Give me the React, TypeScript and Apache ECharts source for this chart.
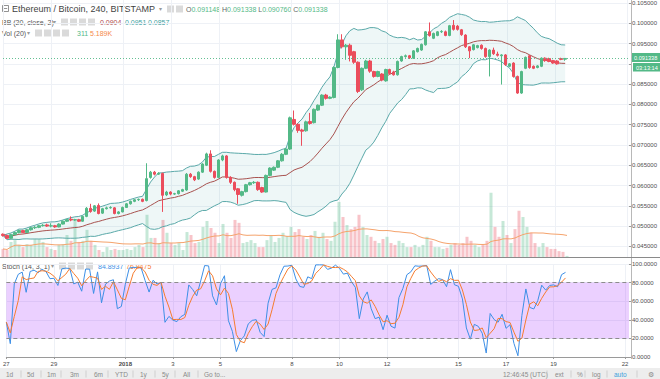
import React, { useEffect, useRef } from 'react';
import * as echarts from 'echarts';

// [open, close, low, high] per 4h candle, starting Dec 27 00:00
const ohlc: number[][] = [
  [0.0480,0.0477,0.0474,0.0482],[0.0477,0.0470,0.0468,0.0479],[0.0470,0.0479,0.0469,0.0481],[0.0479,0.0484,0.0477,0.0486],
  [0.0484,0.0489,0.0482,0.0491],[0.0489,0.0484,0.0483,0.0491],[0.0484,0.0491,0.0483,0.0493],[0.0491,0.0496,0.0489,0.0498],
  [0.0496,0.0497,0.0493,0.0500],[0.0497,0.0501,0.0495,0.0503],[0.0501,0.0502,0.0499,0.0505],[0.0503,0.0500,0.0498,0.0506],
  [0.0500,0.0501,0.0497,0.0507],[0.0501,0.0498,0.0496,0.0503],[0.0498,0.0505,0.0497,0.0507],[0.0505,0.0512,0.0504,0.0514],
  [0.0512,0.0516,0.0510,0.0518],[0.0517,0.0515,0.0512,0.0524],[0.0515,0.0516,0.0513,0.0518],[0.0516,0.0512,0.0510,0.0518],
  [0.0512,0.0524,0.0511,0.0526],[0.0524,0.0544,0.0522,0.0547],[0.0544,0.0536,0.0533,0.0555],[0.0537,0.0550,0.0535,0.0552],
  [0.0551,0.0531,0.0529,0.0556],[0.0532,0.0543,0.0530,0.0545],[0.0543,0.0545,0.0541,0.0548],[0.0545,0.0546,0.0543,0.0549],
  [0.0545,0.0531,0.0529,0.0547],[0.0531,0.0535,0.0529,0.0537],[0.0535,0.0546,0.0534,0.0548],[0.0546,0.0555,0.0545,0.0557],
  [0.0555,0.0561,0.0553,0.0563],[0.0561,0.0565,0.0559,0.0567],[0.0565,0.0566,0.0562,0.0568],[0.0566,0.0561,0.0559,0.0568],
  [0.0563,0.0617,0.0561,0.0655],[0.0620,0.0633,0.0617,0.0636],[0.0633,0.0628,0.0625,0.0636],[0.0628,0.0630,0.0626,0.0633],
  [0.0630,0.0576,0.0535,0.0632],[0.0577,0.0584,0.0574,0.0587],[0.0584,0.0579,0.0576,0.0586],[0.0579,0.0580,0.0577,0.0582],
  [0.0580,0.0587,0.0578,0.0589],[0.0586,0.0590,0.0584,0.0592],[0.0589,0.0628,0.0587,0.0631],[0.0628,0.0622,0.0619,0.0631],
  [0.0622,0.0614,0.0611,0.0624],[0.0616,0.0633,0.0614,0.0635],[0.0633,0.0653,0.0631,0.0655],[0.0650,0.0678,0.0648,0.0681],
  [0.0678,0.0635,0.0632,0.0687],[0.0635,0.0620,0.0617,0.0637],[0.0620,0.0663,0.0618,0.0665],[0.0663,0.0673,0.0660,0.0676],
  [0.0673,0.0620,0.0617,0.0675],[0.0620,0.0608,0.0604,0.0623],[0.0608,0.0590,0.0586,0.0610],[0.0592,0.0578,0.0555,0.0594],
  [0.0576,0.0585,0.0573,0.0587],[0.0585,0.0602,0.0583,0.0604],[0.0602,0.0607,0.0600,0.0609],[0.0607,0.0608,0.0604,0.0611],
  [0.0608,0.0590,0.0587,0.0610],[0.0595,0.0584,0.0582,0.0597],[0.0584,0.0625,0.0583,0.0627],[0.0625,0.0643,0.0623,0.0645],
  [0.0638,0.0645,0.0636,0.0647],[0.0645,0.0661,0.0643,0.0663],[0.0661,0.0677,0.0659,0.0680],[0.0677,0.0690,0.0675,0.0693],
  [0.0690,0.0767,0.0688,0.0770],[0.0763,0.0751,0.0748,0.0785],[0.0751,0.0736,0.0730,0.0753],[0.0737,0.0734,0.0698,0.0740],
  [0.0735,0.0757,0.0733,0.0760],[0.0758,0.0753,0.0750,0.0779],[0.0755,0.0788,0.0753,0.0790],[0.0786,0.0798,0.0784,0.0800],
  [0.0798,0.0823,0.0796,0.0825],[0.0823,0.0815,0.0812,0.0826],[0.0815,0.0818,0.0813,0.0820],[0.0817,0.0891,0.0815,0.0894],
  [0.0891,0.0959,0.0889,0.0973],[0.0959,0.0942,0.0938,0.0973],[0.0942,0.0946,0.0910,0.0949],[0.0946,0.0921,0.0906,0.0950],
  [0.0930,0.0904,0.0900,0.0932],[0.0904,0.0832,0.0828,0.0906],[0.0836,0.0889,0.0833,0.0891],[0.0889,0.0907,0.0887,0.0910],
  [0.0907,0.0882,0.0878,0.0910],[0.0881,0.0869,0.0866,0.0883],[0.0869,0.0881,0.0867,0.0883],[0.0875,0.0860,0.0857,0.0877],
  [0.0858,0.0886,0.0856,0.0888],[0.0886,0.0876,0.0873,0.0888],[0.0880,0.0873,0.0871,0.0883],[0.0873,0.0906,0.0871,0.0908],
  [0.0907,0.0918,0.0905,0.0920],[0.0918,0.0920,0.0915,0.0923],[0.0920,0.0915,0.0912,0.0922],[0.0914,0.0932,0.0912,0.0934],
  [0.0930,0.0938,0.0928,0.0940],[0.0934,0.0948,0.0932,0.0950],[0.0947,0.0979,0.0945,0.0981],[0.0979,0.0970,0.0967,0.1002],
  [0.0963,0.0975,0.0961,0.0977],[0.0970,0.0979,0.0968,0.0981],[0.0979,0.0980,0.0976,0.0983],[0.0979,0.0970,0.0968,0.0982],
  [0.0970,0.0994,0.0968,0.0996],[0.0995,0.0985,0.0982,0.1008],[0.0993,0.0985,0.0982,0.0996],[0.0984,0.0972,0.0969,0.0986],
  [0.0971,0.0942,0.0939,0.0973],[0.0942,0.0932,0.0914,0.0944],[0.0935,0.0947,0.0933,0.0949],[0.0940,0.0945,0.0938,0.0947],
  [0.0946,0.0938,0.0935,0.0948],[0.0938,0.0918,0.0915,0.0940],[0.0918,0.0934,0.0869,0.0936],[0.0934,0.0925,0.0922,0.0940],
  [0.0924,0.0921,0.0918,0.0930],[0.0920,0.0922,0.0849,0.0924],[0.0922,0.0898,0.0895,0.0924],[0.0894,0.0900,0.0892,0.0902],
  [0.0902,0.0869,0.0866,0.0904],[0.0869,0.0828,0.0826,0.0871],[0.0828,0.0881,0.0826,0.0883],[0.0889,0.0916,0.0887,0.0918],
  [0.0920,0.0891,0.0888,0.0922],[0.0894,0.0889,0.0887,0.0896],[0.0891,0.0895,0.0889,0.0897],[0.0894,0.0914,0.0892,0.0916],
  [0.0914,0.0908,0.0905,0.0916],[0.0913,0.0906,0.0904,0.0915],[0.0908,0.0902,0.0900,0.0910],[0.0907,0.0900,0.0898,0.0909],
  [0.0913,0.0911,0.0909,0.0915],[0.091148,0.091338,0.090760,0.091338],
];

// volume, thousands
const volumeK: number[] = [
  2.2,1.9,4.1,4.6,3.3,2.7,3.5,3.3,4.9,4.9,4.1,2.7,2.2,1.9,3.3,3.5,6.0,4.4,10.1,4.1,4.4,7.4,4.4,3.3,1.9,1.4,2.7,1.9,2.2,1.9,1.9,2.2,1.9,2.7,3.3,2.7,11.5,
  5.2,5.2,3.8,10.1,6.6,3.8,3.3,3.8,1.9,6.8,6.0,3.8,4.1,8.2,9.8,7.9,6.6,3.8,9.0,6.6,5.2,10.1,9.3,3.8,4.1,4.6,3.8,2.7,2.7,4.6,6.0,4.1,5.2,6.6,5.7,
  8.2,6.8,7.6,5.5,4.9,6.0,7.1,5.5,6.6,4.9,4.4,9.6,15.0,10.9,8.7,7.6,8.2,11.5,8.2,6.0,
  5.5,4.4,3.8,4.9,5.5,3.8,3.3,4.4,3.8,2.7,2.7,3.3,2.7,3.3,5.5,4.4,2.7,2.7,2.2,2.5,
  3.3,3.8,3.3,3.8,5.5,4.4,3.3,2.7,3.3,4.4,17.5,8.2,5.5,9.8,6.0,3.8,7.6,12.6,10.9,8.2,
  6.6,3.8,2.7,3.8,2.7,2.2,2.2,1.6,1.4,0.3,
];

const tickIndex = [0, 12, 30, 42, 54, 72, 84, 96, 114, 126, 138, 156];
const tickLabels = ['27', '29', '2018', '3', '5', '8', '10', '12', '15', '17', '19', '22'];
const lastPrice = 0.091338;
const SLOTS = 158;

const UP = '#53b987';
const DOWN = '#eb4d5c';
const FONT = 'Liberation Sans, Arial, sans-serif';

function rollMean(a: number[], n: number) {
  return a.map((_, i) => {
    const s = Math.max(0, i - n + 1);
    let sum = 0;
    for (let j = s; j <= i; j++) sum += a[j];
    return sum / (i - s + 1);
  });
}
function rollStd(a: number[], n: number, m: number[]) {
  return a.map((_, i) => {
    const s = Math.max(0, i - n + 1);
    let sum = 0;
    for (let j = s; j <= i; j++) sum += (a[j] - m[i]) ** 2;
    return Math.sqrt(sum / (i - s + 1));
  });
}

export default function App() {
  const ref = useRef<HTMLDivElement>(null);
  useEffect(() => {
    if (!ref.current) return;
    const chart = echarts.init(ref.current, null, { renderer: 'svg' });
    const closes = ohlc.map((r) => r[1]);
    const lows = ohlc.map((r) => r[2]);
    const highs = ohlc.map((r) => r[3]);
    const mid = rollMean(closes, 20);
    const sd = rollStd(closes, 20, mid);
    const upper = mid.map((m, i) => m + 2 * sd[i]);
    const lower = mid.map((m, i) => m - 2 * sd[i]);
    const band = upper.map((u, i) => u - lower[i]);
    const volMA = rollMean(volumeK, 20);
    const kRaw = closes.map((c, i) => {
      const s = Math.max(0, i - 13);
      const hh = Math.max(...highs.slice(s, i + 1));
      const ll = Math.min(...lows.slice(s, i + 1));
      return hh === ll ? 50 : (100 * (c - ll)) / (hh - ll);
    });
    const dLine = rollMean(kRaw, 3);

    const cats = Array.from({ length: SLOTS }, (_, i) => String(i));
    const tickSet = new Set(tickIndex);
    const isTick = (i: number) => tickSet.has(i);
    const labelOf = (i: number) => {
      const k = tickIndex.indexOf(i);
      if (k < 0) return '';
      const t = tickLabels[k];
      return t === '2018' ? '{b|' + t + '}' : t;
    };
    const gridLine = { show: true, lineStyle: { color: '#eef1f6', width: 1 } };
    const gL = 3, gW = 628;

    const icons = (x0: number, y: number, n: number) =>
      Array.from({ length: n }, (_, i) => ({
        type: 'rect', shape: { x: x0 + i * 9, y: y - 3.5, width: 7, height: 7 },
        style: { fill: '#dadada' },
      }));
    const txt = (x: number, y: number, text: string, fill: string, size = 7, extra: any = {}) => ({
      type: 'text', x, y,
      style: { text, fill, font: `${size}px ${FONT}`, verticalAlign: 'middle', textVerticalAlign: 'middle', ...extra },
    });

    const toolbarLeft: [number, string][] = [[6, '1d'], [27, '5d'], [47, '1m'], [70, '3m'], [94, '6m'], [115, 'YTD'], [140, '1y'], [162, '5y'], [183, 'All'], [204, 'Go to...']];
    const seps = [21, 41, 61, 86, 108, 133, 155, 175, 198];
    const toolbarRight: [number, string, string][] = [[503, '12:46:45 (UTC)', '#8a8a8a'], [555, 'ext', '#8a8a8a'], [577, '%', '#8a8a8a'], [592, 'log', '#8a8a8a'], [614, 'auto', '#3d9fdc'], [648, '\u2699', '#8a8a8a']];
    const sepsR = [547, 571, 585, 607, 637];

    const option: any = {
      animation: false,
      backgroundColor: '#ffffff',
      textStyle: { fontFamily: FONT },
      grid: [
        { left: gL, width: gW, top: 1, height: 245.4 },
        { left: gL, width: gW, top: 0, height: 257 },
        { left: gL, width: gW, top: 264, height: 93 },
      ],
      xAxis: [
        { type: 'category', gridIndex: 0, data: cats, boundaryGap: false, show: false },
        {
          type: 'category', gridIndex: 1, data: cats, boundaryGap: false,
          axisLine: { show: false }, axisTick: { show: false },
          axisLabel: { show: false, interval: isTick },
          splitLine: { ...gridLine, interval: isTick },
        },
        {
          type: 'category', gridIndex: 2, data: cats, boundaryGap: false,
          axisLine: { show: true, lineStyle: { color: '#9a9a9a' } },
          axisTick: { show: true, interval: isTick, length: 2, lineStyle: { color: '#9a9a9a' } },
          axisLabel: {
            interval: isTick, formatter: (_v: string, i: number) => labelOf(i),
            fontSize: 6, color: '#4a4a4a', margin: 4, fontFamily: FONT,
            rich: { b: { fontWeight: 'bold', fontSize: 6, color: '#4a4a4a', fontFamily: FONT } },
          },
          splitLine: { ...gridLine, interval: isTick },
        },
      ],
      yAxis: [
        {
          type: 'value', gridIndex: 0, position: 'right', min: 0.045, max: 0.105, interval: 0.005,
          axisLine: { show: false }, axisTick: { show: true, length: 2, lineStyle: { color: '#9a9a9a' } },
          axisLabel: {
            // the 0.090000 label sits under the current-price tag, as in the reference
            formatter: (v: number) => (Math.abs(v - 0.09) < 1e-9 ? '' : v.toFixed(6)),
            fontSize: 6, color: '#4f4f4f', margin: 3, fontFamily: FONT,
          },
          splitLine: gridLine,
        },
        { type: 'value', gridIndex: 1, min: 0, max: 70, show: false },
        {
          type: 'value', gridIndex: 2, position: 'right', min: 0, max: 100, interval: 20,
          axisLine: { show: false }, axisTick: { show: true, length: 2, lineStyle: { color: '#9a9a9a' } },
          axisLabel: { formatter: (v: number) => v.toFixed(4), fontSize: 6, color: '#4f4f4f', margin: 3, fontFamily: FONT },
          splitLine: gridLine,
        },
      ],
      series: [
        {
          type: 'bar', xAxisIndex: 1, yAxisIndex: 1, barWidth: 3, clip: false, silent: true, z: 1,
          data: volumeK.map((v, i) => ({
            value: v,
            itemStyle: { color: ohlc[i][1] >= ohlc[i][0] ? 'rgba(83,185,135,0.33)' : 'rgba(235,77,92,0.33)' },
          })),
        },
        {
          type: 'line', xAxisIndex: 1, yAxisIndex: 1, data: volMA, symbol: 'none', clip: false, silent: true, z: 1,
          lineStyle: { color: '#f5a36c', width: 1 },
        },
        {
          type: 'line', xAxisIndex: 0, yAxisIndex: 0, data: lower, stack: 'bb', symbol: 'none', clip: false, silent: true,
          lineStyle: { opacity: 0 }, z: 2,
        },
        {
          type: 'line', xAxisIndex: 0, yAxisIndex: 0, data: band, stack: 'bb', symbol: 'none', clip: false, silent: true,
          lineStyle: { opacity: 0 }, areaStyle: { color: 'rgba(40,150,150,0.08)', opacity: 1 }, z: 2,
        },
        {
          type: 'line', xAxisIndex: 0, yAxisIndex: 0, data: upper, symbol: 'none', clip: false, silent: true,
          lineStyle: { color: '#5aa9a9', width: 1 }, z: 3,
        },
        {
          type: 'line', xAxisIndex: 0, yAxisIndex: 0, data: lower, symbol: 'none', clip: false, silent: true,
          lineStyle: { color: '#5aa9a9', width: 1 }, z: 3,
        },
        {
          type: 'line', xAxisIndex: 0, yAxisIndex: 0, data: mid, symbol: 'none', clip: false, silent: true,
          lineStyle: { color: '#a8524f', width: 1 }, z: 3,
          markLine: {
            silent: true, symbol: ['none', 'none'], label: { show: false }, precision: 6,
            lineStyle: { color: UP, type: [1, 2], width: 1, opacity: 0.9 },
            emphasis: { disabled: true },
            data: [{ yAxis: lastPrice }],
          },
        },
        {
          type: 'candlestick', xAxisIndex: 0, yAxisIndex: 0, data: ohlc, barWidth: 3, clip: false, z: 4,
          itemStyle: { color: UP, color0: DOWN, borderColor: UP, borderColor0: DOWN, borderWidth: 1 },
        },
        {
          type: 'line', xAxisIndex: 2, yAxisIndex: 2, data: kRaw, symbol: 'none', silent: true, z: 3,
          lineStyle: { color: '#3d8fe6', width: 1 },
          markArea: {
            silent: true, itemStyle: { color: 'rgba(153,21,255,0.2)' },
            data: [[{ yAxis: 20 }, { yAxis: 80 }]],
          },
          markLine: {
            silent: true, symbol: ['none', 'none'], label: { show: false }, precision: 4,
            lineStyle: { color: '#8c8c8c', type: [4, 3], width: 1 },
            data: [{ yAxis: 80 }, { yAxis: 20 }],
          },
        },
        {
          type: 'line', xAxisIndex: 2, yAxisIndex: 2, data: dLine, symbol: 'none', silent: true, z: 3,
          lineStyle: { color: '#f57c2f', width: 1 },
        },
      ],
      graphic: [
        { type: 'line', shape: { x1: 631.5, y1: 0, x2: 631.5, y2: 359 }, style: { stroke: '#b8b8b8', lineWidth: 1 } },
        { type: 'line', shape: { x1: 0, y1: 257.5, x2: 660, y2: 257.5 }, style: { stroke: '#8a8a8a', lineWidth: 1 } },
        // current price labels
        { type: 'rect', shape: { x: 632, y: 53, width: 28, height: 9 }, style: { fill: UP } },
        txt(634, 57.5, '0.091338', '#ffffff', 5.6),
        { type: 'rect', shape: { x: 633, y: 63, width: 27, height: 8.5 }, style: { fill: UP } },
        txt(636, 67.5, '03:13:14', '#ffffff', 5.6),
        // title row
        { type: 'rect', shape: { x: 2.5, y: 5.5, width: 6, height: 6 }, style: { fill: 'none', stroke: '#777', lineWidth: 0.8 } },
        { type: 'line', shape: { x1: 3.8, y1: 8.5, x2: 7.2, y2: 8.5 }, style: { stroke: '#777', lineWidth: 0.8 } },
        txt(12, 9, 'Ethereum / Bitcoin, 240, BITSTAMP', '#3f3f3f', 9),
        txt(159, 9, '\u25BE', '#999', 6),
        ...icons(167, 9, 2),
        {
          type: 'text', x: 186, y: 9,
          style: {
            text: '{l|O}{v|0.091148} {l|H}{v|0.091338} {l|L}{v|0.090760} {l|C}{v|0.091338}',
            font: `7px ${FONT}`, verticalAlign: 'middle', textVerticalAlign: 'middle',
            rich: { l: { fill: '#666', font: `7px ${FONT}` }, v: { fill: UP, font: `7px ${FONT}` } },
          },
        },
        // BB row
        txt(2, 22, 'BB (20, close, 2)', '#555', 7),
        txt(53, 22, '\u25BE', '#999', 5.5),
        ...icons(61, 22, 4),
        txt(100, 22, '0.0904', '#b0474a', 7),
        txt(125, 22, '0.0951', '#3f9f9f', 7),
        txt(148, 22, '0.0857', '#3f9f9f', 7),
        // Vol row
        txt(2, 33, 'Vol (20)', '#555', 7),
        txt(27, 33, '\u25BE', '#999', 5.5),
        ...icons(35, 33, 4),
        txt(77, 33, '311', UP, 7),
        txt(90, 33, '5.189K', '#f5894a', 7),
        // Stoch row
        txt(2, 266, 'Stoch (14, 3, 1)', '#555', 7),
        txt(51, 266, '\u25BE', '#999', 5.5),
        ...icons(59, 266, 4),
        txt(98, 266, '84.8937', '#3d8fe6', 7),
        txt(126, 266, '76.9475', '#f57c2f', 7),
        // toolbar
        { type: 'rect', shape: { x: 0, y: 368, width: 660, height: 11 }, style: { fill: '#ededed' } },
        ...toolbarLeft.map(([x, t]) => txt(x, 374, t, '#8a8a8a', 6.5)),
        ...seps.map((x) => ({ type: 'line', shape: { x1: x, y1: 370.5, x2: x, y2: 377.5 }, style: { stroke: '#c8c8c8', lineWidth: 0.8 } })),
        ...toolbarRight.map(([x, t, c]) => txt(x, 374, t, c, 6.5)),
        ...sepsR.map((x) => ({ type: 'line', shape: { x1: x, y1: 370.5, x2: x, y2: 377.5 }, style: { stroke: '#c8c8c8', lineWidth: 0.8 } })),
      ],
    };
    chart.setOption(option);
    return () => chart.dispose();
  }, []);
  return <div ref={ref} style={{ position: 'fixed', left: 0, top: 0, width: 660, height: 379 }} />;
}
